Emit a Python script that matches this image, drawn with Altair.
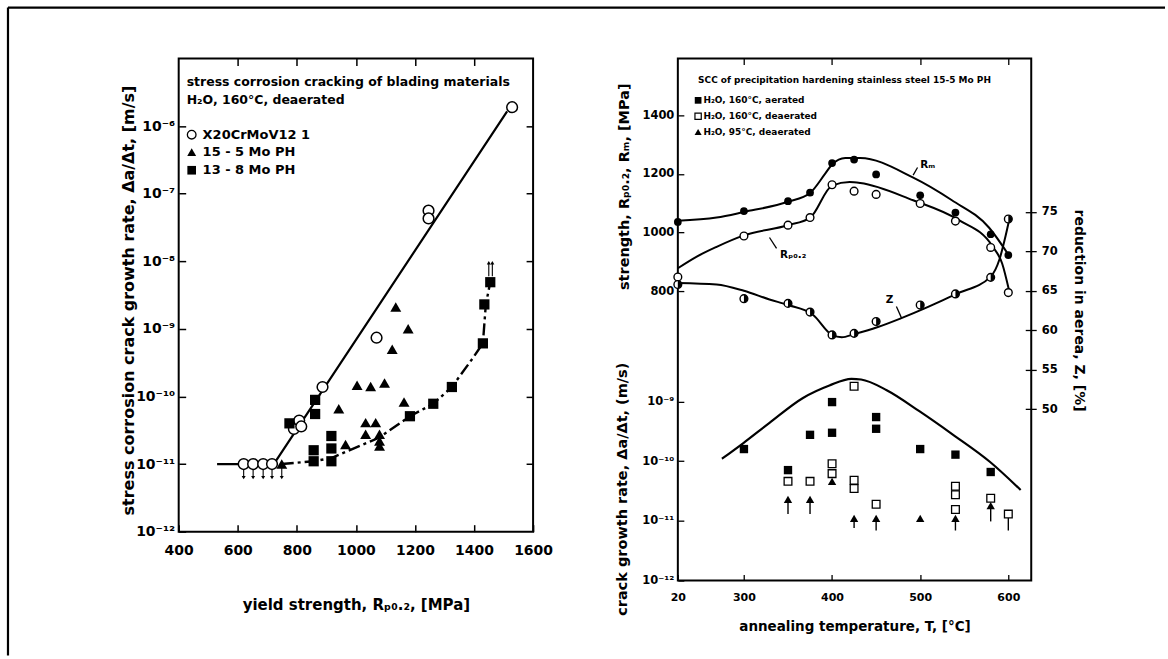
import altair as alt
import pandas as pd

FONT = "DejaVu Sans"

# ================= LEFT PANEL : crack growth rate vs yield strength =================
x20_strength = [620, 652, 686, 716, 790, 808, 815, 887, 1070, 1246, 1246, 1529]
x20_rate = [1e-11, 1e-11, 1e-11, 1e-11, 3.3e-11, 4.4e-11, 3.6e-11, 1.38e-10, 7.4e-10, 5.6e-8, 4.3e-8, 1.9e-6]

ph155_strength = [749, 942, 965, 1004, 1033, 1033, 1050, 1067, 1080, 1080, 1080, 1097, 1123, 1135, 1163, 1177]
ph155_rate = [1.0e-11, 6.6e-11, 1.95e-11, 1.46e-10, 4.1e-11, 2.75e-11, 1.4e-10, 4.1e-11,
              2.75e-11, 2.2e-11, 1.85e-11, 1.58e-10, 5.0e-10, 2.1e-9, 8.3e-11, 1.0e-9]

ph138_strength = [775, 857, 857, 862, 862, 917, 917, 917, 1183, 1262, 1325, 1430, 1435, 1455]
ph138_rate = [4.0e-11, 1.1e-11, 1.6e-11, 5.5e-11, 8.9e-11, 1.1e-11, 1.7e-11, 2.6e-11,
              5.1e-11, 7.8e-11, 1.38e-10, 6.1e-10, 2.3e-9, 4.9e-9]

x20_line_strength = [530, 722, 1512]
x20_line_rate = [1e-11, 1e-11, 1.65e-6]

ph138_line_strength = [749, 857, 917, 1078, 1183, 1262, 1325, 1396, 1430, 1440, 1455]
ph138_line_rate = [1e-11, 1.1e-11, 1.23e-11, 2.45e-11, 5.1e-11, 7.8e-11, 1.38e-10, 3.7e-10, 6.1e-10, 2.3e-9, 4.9e-9]

down_arrow_strength = [620, 652, 686, 716, 749]
down_arrow_from = [1e-11, 1e-11, 1e-11, 1e-11, 1e-11]
down_arrow_to = [6.3e-12, 6.3e-12, 6.3e-12, 6.3e-12, 6.3e-12]

up_arrow_strength = [1450, 1462]
up_arrow_from = [6.0e-9, 6.0e-9]
up_arrow_to = [9.5e-9, 9.5e-9]

left_x_labels = [400, 600, 800, 1000, 1200, 1400, 1600]
left_x_inner = [600, 800, 1000, 1200, 1400]
left_y_values = [1e-12, 1e-11, 1e-10, 1e-9, 1e-8, 1e-7, 1e-6]
left_y_labels = ["10⁻¹²", "10⁻¹¹", "10⁻¹⁰", "10⁻⁹", "10⁻⁸", "10⁻⁷", "10⁻⁶"]
left_y_inner = [1e-11, 1e-10, 1e-9, 1e-8, 1e-7, 1e-6]

left_head_text = ["stress corrosion cracking of blading materials", "H₂O, 160°C, deaerated"]
left_head_x = [427, 427]
left_head_y = [4.47e-6, 2.45e-6]
left_legend_text = ["X20CrMoV12 1", "15 - 5 Mo PH", "13 - 8 Mo PH"]
left_legend_sym_x = 444
left_legend_txt_x = 481
left_legend_y = [7.46e-7, 4.13e-7, 2.22e-7]

# ================= RIGHT PANEL : 15-5 Mo PH vs annealing temperature =================
BREAK_T = 225  # position on the broken axis where the 20 °C state is drawn

T_pts = [20, 300, 350, 375, 400, 425, 450, 500, 540, 580, 600]
rm_pts = [1036, 1073, 1107, 1136, 1237, 1249, 1198, 1127, 1068, 994, 923]
rp_pts = [848, 988, 1025, 1051, 1163, 1141, 1130, 1099, 1039, 949, 795]
z_pts = [65.8, 64.0, 63.4, 62.3, 59.4, 59.6, 61.1, 63.2, 64.6, 66.7, 74.1]

rm_curve_T = [20, 269, 300, 350, 375, 392, 400, 415, 432, 491, 536, 578, 600]
rm_curve = [1040, 1051, 1070, 1105, 1135, 1200, 1232, 1254, 1254, 1189, 1110, 1017, 925]
rp_curve_T = [20, 246, 269, 300, 350, 375, 400, 420, 432, 492, 544, 582, 593, 601]
rp_curve = [878, 917, 951, 990, 1025, 1050, 1160, 1172, 1169, 1110, 1042, 953, 894, 800]
z_curve_T = [20, 269, 300, 329, 350, 378, 400, 411, 425, 452, 478, 541, 580, 590, 597, 601]
z_curve = [66.0, 65.8, 65.0, 63.9, 63.2, 62.0, 59.4, 59.1, 59.5, 60.4, 61.5, 64.6, 66.8, 69.0, 72.0, 74.0]

aer_T = [300, 350, 375, 400, 400, 450, 450, 500, 540, 580]
aer_rate = [1.6e-10, 7.1e-11, 2.77e-10, 9.8e-10, 3.0e-10, 5.5e-10, 3.5e-10, 1.6e-10, 1.29e-10, 6.6e-11]
dea_T = [350, 375, 400, 400, 425, 425, 425, 450, 540, 540, 540, 580, 600]
dea_rate = [4.6e-11, 4.6e-11, 9.1e-11, 6.2e-11, 1.8e-9, 4.8e-11, 3.5e-11, 1.9e-11,
            3.8e-11, 2.75e-11, 1.55e-11, 2.4e-11, 1.3e-11]
c95_T = [350, 375, 400, 425, 450, 500, 540, 580]
c95_rate = [2.3e-11, 2.3e-11, 4.6e-11, 1.1e-11, 1.1e-11, 1.1e-11, 1.1e-11, 1.8e-11]
stem_T = [350, 375, 425, 450, 540, 580, 600]
stem_top = [2.3e-11, 2.3e-11, 1.1e-11, 1.1e-11, 1.1e-11, 1.8e-11, 1.3e-11]
stem_bottom = [1.3e-11, 1.3e-11, 7.6e-12, 6.9e-12, 6.9e-12, 9.8e-12, 6.9e-12]

cgr_curve_T = [275, 299, 329, 367, 397, 422, 433, 462, 499, 537, 579, 614]
cgr_curve = [1.1e-10, 2.0e-10, 4.4e-10, 1.15e-9, 1.86e-9, 2.4e-9, 2.34e-9, 1.55e-9, 6.9e-10, 2.8e-10, 9.8e-11, 3.3e-11]

right_x_labels = [BREAK_T, 300, 400, 500, 600]
right_x_inner = [300, 400, 500, 600]
strength_ticks = [800, 1000, 1200, 1400]
cgr_ticks = [1e-12, 1e-11, 1e-10, 1e-9]
cgr_labels = ["10⁻¹²", "10⁻¹¹", "10⁻¹⁰", "10⁻⁹"]
z_ticks = [50, 55, 60, 65, 70, 75]

right_head_text = "SCC of precipitation hardening stainless steel 15-5 Mo PH"
right_head_T, right_head_y = 248, 1519
right_legend_text = ["H₂O, 160°C, aerated", "H₂O, 160°C, deaerated", "H₂O,  95°C, deaerated"]
right_legend_sym_T = 248
right_legend_txt_T = 254
right_legend_y = [1451, 1397, 1343]

curve_label_text = ["Rₘ", "Rₚ₀.₂"]
curve_label_T = [500, 341]
curve_label_y = [1232, 923]
leader_T1 = [492, 329]
leader_y1 = [1196, 983]
leader_T2 = [497, 337]
leader_y2 = [1222, 946]
z_label_T, z_label_y = 461, 63.8
z_leader_T1, z_leader_y1, z_leader_T2, z_leader_y2 = 473, 63.0, 479, 61.5

# ---------------- helpers ----------------
W_L, H_L = 355, 474
W_R, H_R = 354, 523
BLACK = "black"
LBL = dict(labelFont=FONT, labelFontWeight="bold", labelColor=BLACK,
           titleFont=FONT, titleFontWeight="bold", titleColor=BLACK,
           tickColor=BLACK, grid=False, domain=False, labelFlush=False)


def label_expr(vals, labels):
    parts = [f"datum.value < {v * 3:.3g} ? '{l}'" for v, l in zip(vals[:-1], labels[:-1])]
    return " : ".join(parts) + f" : '{labels[-1]}'"


def xl(field, axis=None):
    return alt.X(f"{field}:Q", scale=alt.Scale(domain=[400, 1600], nice=False, zero=False), axis=axis)


def yl(field, axis=None):
    return alt.Y(f"{field}:Q", scale=alt.Scale(type="log", domain=[1e-12, 1e-5], nice=False), axis=axis)


def xr(field, axis=None):
    return alt.X(f"{field}:Q", scale=alt.Scale(domain=[BREAK_T, 626], nice=False, zero=False), axis=axis)


def ys(field, axis=None):
    return alt.Y(f"{field}:Q", scale=alt.Scale(domain=[-188, 1594], nice=False, zero=False), axis=axis)


def yc(field, axis=None):
    return alt.Y(f"{field}:Q", scale=alt.Scale(type="log", domain=[1e-12, 10 ** -3.25], nice=False), axis=axis)


def yz(field, axis=None):
    return alt.Y(f"{field}:Q", scale=alt.Scale(domain=[28.25, 94.46], nice=False, zero=False), axis=axis)


def tdisp(ts):
    return [BREAK_T if t < 100 else t for t in ts]


def txt(size):
    return dict(font=FONT, fontWeight="bold", fontSize=size, align="left", baseline="middle", color=BLACK)


# ---------------- left panel ----------------
ax_l_bottom = alt.Axis(orient="bottom", values=left_x_labels, format="d", offset=-7, tickSize=7, tickWidth=1.5,
                       labelPadding=12, labelFontSize=14, title="yield strength, Rₚ₀.₂, [MPa]",
                       titleFontSize=15, titleY=80, titleBaseline="middle", **LBL)
ax_l_left = alt.Axis(orient="left", values=left_y_values, offset=-7, tickSize=7, tickWidth=1.5,
                     labelPadding=4, labelFontSize=14,
                     labelExpr=label_expr(left_y_values, left_y_labels),
                     title="stress corrosion crack growth rate, Δa/Δt, [m/s]",
                     titleFontSize=16, titleX=-57, titleY=242, titleBaseline="middle", **LBL)
ax_l_top = alt.Axis(orient="top", values=left_x_inner, offset=-7, tickSize=7, tickWidth=1.5,
                    labels=False, title=None, **LBL)
ax_l_right = alt.Axis(orient="right", values=left_y_inner, offset=-7, tickSize=7, tickWidth=1.5,
                      labels=False, title=None, **LBL)

df_x20_line = pd.DataFrame({"s": x20_line_strength, "r": x20_line_rate})
df_138_line = pd.DataFrame({"s": ph138_line_strength, "r": ph138_line_rate})
df_x20 = pd.DataFrame({"s": x20_strength, "r": x20_rate})
df_155 = pd.DataFrame({"s": ph155_strength, "r": ph155_rate})
df_138 = pd.DataFrame({"s": ph138_strength, "r": ph138_rate})
df_down = pd.DataFrame({"s": down_arrow_strength, "a": down_arrow_from, "b": down_arrow_to})
df_up = pd.DataFrame({"s": up_arrow_strength, "a": up_arrow_from, "b": up_arrow_to})
df_lhead = pd.DataFrame({"s": left_head_x, "r": left_head_y, "t": left_head_text})
df_lleg = pd.DataFrame({"s": [left_legend_sym_x] * 3, "s2": [left_legend_txt_x] * 3,
                        "r": left_legend_y, "t": left_legend_text})

l_line1 = alt.Chart(df_x20_line).mark_line(color=BLACK, strokeWidth=2.2).encode(
    x=xl("s", ax_l_bottom), y=yl("r", ax_l_left))
l_line2 = alt.Chart(df_138_line).mark_line(color=BLACK, strokeWidth=2.4, strokeDash=[12, 4, 3, 4]).encode(
    x=xl("s", ax_l_top), y=yl("r", ax_l_right))
l_down_rule = alt.Chart(df_down).mark_rule(color=BLACK, strokeWidth=1.1).encode(x=xl("s"), y=yl("a"), y2="b")
l_down_head = alt.Chart(df_down).mark_point(shape="triangle-down", filled=True, color=BLACK, size=16,
                                            opacity=1).encode(x=xl("s"), y=yl("b"))
l_up_rule = alt.Chart(df_up).mark_rule(color=BLACK, strokeWidth=1.1).encode(x=xl("s"), y=yl("a"), y2="b")
l_up_head = alt.Chart(df_up).mark_point(shape="triangle-up", filled=True, color=BLACK, size=16,
                                        opacity=1).encode(x=xl("s"), y=yl("b"))
l_circ = alt.Chart(df_x20).mark_point(shape="circle", filled=True, fill="white", stroke=BLACK,
                                      strokeWidth=1.5, size=115, opacity=1).encode(x=xl("s"), y=yl("r"))
l_tri = alt.Chart(df_155).mark_point(shape="triangle-up", filled=True, color=BLACK, size=120,
                                     opacity=1).encode(x=xl("s"), y=yl("r"))
l_sq = alt.Chart(df_138).mark_point(shape="square", filled=True, color=BLACK, size=105,
                                    opacity=1).encode(x=xl("s"), y=yl("r"))
l_head = alt.Chart(df_lhead).mark_text(**txt(12.5)).encode(x=xl("s"), y=yl("r"), text="t:N")
lg = alt.Chart(df_lleg)
l_leg_c = lg.transform_filter(alt.datum.t == left_legend_text[0]).mark_point(
    shape="circle", filled=True, fill="white", stroke=BLACK, strokeWidth=1.3, size=75, opacity=1).encode(
    x=xl("s"), y=yl("r"))
l_leg_t = lg.transform_filter(alt.datum.t == left_legend_text[1]).mark_point(
    shape="triangle-up", filled=True, color=BLACK, size=80, opacity=1).encode(x=xl("s"), y=yl("r"))
l_leg_s = lg.transform_filter(alt.datum.t == left_legend_text[2]).mark_point(
    shape="square", filled=True, color=BLACK, size=75, opacity=1).encode(x=xl("s"), y=yl("r"))
l_leg_txt = lg.mark_text(**txt(13)).encode(x=xl("s2"), y=yl("r"), text="t:N")
df_one = pd.DataFrame({"k": [0]})
border_top = alt.Chart(df_one).mark_rule(color=BLACK, strokeWidth=2.2).encode(
    x=alt.value(-171), x2=alt.value(988), y=alt.value(-51))
border_left = alt.Chart(df_one).mark_rule(color=BLACK, strokeWidth=2.2).encode(
    x=alt.value(-171), y=alt.value(-51), y2=alt.value(598))

left = alt.layer(l_line1, l_line2, l_down_rule, l_down_head, l_up_rule, l_up_head, l_circ, l_tri, l_sq,
                 l_head, l_leg_c, l_leg_t, l_leg_s, l_leg_txt, border_top, border_left).resolve_axis(
    x="independent", y="independent").properties(width=W_L, height=H_L)

# ---------------- right panel ----------------
ax_r_bottom = alt.Axis(orient="bottom", values=right_x_labels, format="d", offset=-6, tickSize=6, tickWidth=1.3,
                       labelPadding=11, labelFontSize=11,
                       labelExpr=f"datum.value == {BREAK_T} ? '20' : datum.label",
                       title="annealing temperature, T,  [°C]", titleFontSize=13.5, titleY=52,
                       titleBaseline="middle", **LBL)
ax_r_top = alt.Axis(orient="top", values=right_x_inner, offset=-6, tickSize=6, tickWidth=1.3,
                    labels=False, title=None, **LBL)
ax_str = alt.Axis(orient="left", values=strength_ticks, format="d", offset=-6, tickSize=6, tickWidth=1.3,
                  labelPadding=4, labelFontSize=11.5, title="strength, Rₚ₀.₂, Rₘ, [MPa]",
                  titleFontSize=14.5, titleX=-59, titleY=128, titleBaseline="middle", **LBL)
ax_cgr = alt.Axis(orient="left", values=cgr_ticks, offset=-6, tickSize=6, tickWidth=1.3,
                  labelPadding=4, labelFontSize=11.5, labelExpr=label_expr(cgr_ticks, cgr_labels),
                  title="crack growth rate, Δa/Δt, (m/s)", titleFontSize=14.5, titleX=-61, titleY=431,
                  titleBaseline="middle", **LBL)
ax_z = alt.Axis(orient="right", values=z_ticks, format="d", offset=-6, tickSize=11, tickWidth=1.3,
                labelPadding=5, labelFontSize=11.5, title="reduction in aerea, Z, [%]",
                titleFontSize=14, titleX=53, titleY=252, titleBaseline="middle", **LBL)

df_rm_curve = pd.DataFrame({"T": tdisp(rm_curve_T), "v": rm_curve})
df_rp_curve = pd.DataFrame({"T": tdisp(rp_curve_T), "v": rp_curve})
df_z_curve = pd.DataFrame({"T": tdisp(z_curve_T), "v": z_curve})
df_cgr_curve = pd.DataFrame({"T": cgr_curve_T, "v": cgr_curve})
df_pts = pd.DataFrame({"T": tdisp(T_pts), "rm": rm_pts, "rp": rp_pts, "z": z_pts})
df_aer = pd.DataFrame({"T": aer_T, "v": aer_rate})
df_dea = pd.DataFrame({"T": dea_T, "v": dea_rate})
df_95 = pd.DataFrame({"T": c95_T, "v": c95_rate})
df_stem = pd.DataFrame({"T": stem_T, "a": stem_top, "b": stem_bottom})
df_rhead = pd.DataFrame({"T": [right_head_T], "v": [right_head_y], "t": [right_head_text]})
df_rleg = pd.DataFrame({"T": [right_legend_sym_T] * 3, "T2": [right_legend_txt_T] * 3, "v": right_legend_y,
                        "t": right_legend_text})
df_clab = pd.DataFrame({"T": curve_label_T, "v": curve_label_y, "t": curve_label_text})
df_lead = pd.DataFrame({"T": leader_T1, "v": leader_y1, "T2": leader_T2, "v2": leader_y2})
df_zlab = pd.DataFrame({"T": [z_label_T], "v": [z_label_y], "t": ["Z"]})
df_zlead = pd.DataFrame({"T": [z_leader_T1], "v": [z_leader_y1], "T2": [z_leader_T2], "v2": [z_leader_y2]})

HALF_DISC = "M 0 -1 A 1 1 0 0 1 0 1 Z"

r_rm = alt.Chart(df_rm_curve).mark_line(color=BLACK, strokeWidth=2, interpolate="monotone").encode(
    x=xr("T", ax_r_bottom), y=ys("v", ax_str))
r_rp = alt.Chart(df_rp_curve).mark_line(color=BLACK, strokeWidth=2, interpolate="monotone").encode(
    x=xr("T", ax_r_top), y=ys("v"))
r_z = alt.Chart(df_z_curve).mark_line(color=BLACK, strokeWidth=2, interpolate="monotone").encode(
    x=xr("T"), y=yz("v", ax_z))
r_cgr = alt.Chart(df_cgr_curve).mark_line(color=BLACK, strokeWidth=2.2, interpolate="monotone").encode(
    x=xr("T"), y=yc("v", ax_cgr))
r_rm_pts = alt.Chart(df_pts).mark_point(shape="circle", filled=True, color=BLACK, size=60, opacity=1).encode(
    x=xr("T"), y=ys("rm"))
r_rp_pts = alt.Chart(df_pts).mark_point(shape="circle", filled=True, fill="white", stroke=BLACK,
                                        strokeWidth=1.4, size=60, opacity=1).encode(x=xr("T"), y=ys("rp"))
r_z_pts = alt.Chart(df_pts).mark_point(shape="circle", filled=True, fill="white", stroke=BLACK,
                                       strokeWidth=1.4, size=60, opacity=1).encode(x=xr("T"), y=yz("z"))
r_z_half = alt.Chart(df_pts).mark_point(shape=HALF_DISC, filled=True, color=BLACK, size=60, opacity=1).encode(
    x=xr("T"), y=yz("z"))
r_stem = alt.Chart(df_stem).mark_rule(color=BLACK, strokeWidth=1.4).encode(x=xr("T"), y=yc("a"), y2="b")
r_aer = alt.Chart(df_aer).mark_point(shape="square", filled=True, color=BLACK, size=70, opacity=1).encode(
    x=xr("T"), y=yc("v"))
r_dea = alt.Chart(df_dea).mark_point(shape="square", filled=True, fill="white", stroke=BLACK,
                                     strokeWidth=1.3, size=60, opacity=1).encode(x=xr("T"), y=yc("v"))
r_95 = alt.Chart(df_95).mark_point(shape="triangle-up", filled=True, color=BLACK, size=70, opacity=1).encode(
    x=xr("T"), y=yc("v"))
r_head = alt.Chart(df_rhead).mark_text(**txt(9)).encode(x=xr("T"), y=ys("v"), text="t:N")
rg = alt.Chart(df_rleg)
r_leg_a = rg.transform_filter(alt.datum.t == right_legend_text[0]).mark_point(
    shape="square", filled=True, color=BLACK, size=45, opacity=1).encode(x=xr("T"), y=ys("v"))
r_leg_b = rg.transform_filter(alt.datum.t == right_legend_text[1]).mark_point(
    shape="square", filled=True, fill="white", stroke=BLACK, strokeWidth=1.2, size=40, opacity=1).encode(
    x=xr("T"), y=ys("v"))
r_leg_c = rg.transform_filter(alt.datum.t == right_legend_text[2]).mark_point(
    shape="triangle-up", filled=True, color=BLACK, size=50, opacity=1).encode(x=xr("T"), y=ys("v"))
r_leg_txt = rg.mark_text(**txt(9)).encode(x=xr("T2"), y=ys("v"), text="t:N")
r_clab = alt.Chart(df_clab).mark_text(**txt(10.5)).encode(x=xr("T"), y=ys("v"), text="t:N")
r_lead = alt.Chart(df_lead).mark_rule(color=BLACK, strokeWidth=1.3).encode(
    x=xr("T"), y=ys("v"), x2="T2", y2="v2")
r_zlab = alt.Chart(df_zlab).mark_text(**txt(10.5)).encode(x=xr("T"), y=yz("v"), text="t:N")
r_zlead = alt.Chart(df_zlead).mark_rule(color=BLACK, strokeWidth=1.3).encode(
    x=xr("T"), y=yz("v"), x2="T2", y2="v2")

right = alt.layer(r_rm, r_rp, r_z, r_cgr, r_stem, r_rm_pts, r_rp_pts, r_z_pts, r_z_half, r_aer, r_dea, r_95,
                  r_head, r_leg_a, r_leg_b, r_leg_c, r_leg_txt, r_clab, r_lead, r_zlab, r_zlead).resolve_scale(
    y="independent").resolve_axis(x="independent", y="independent").properties(width=W_R, height=H_R)

chart = alt.hconcat(left, right, spacing=145, bounds="flush").properties(
    padding={"left": 5, "top": 4, "right": 0, "bottom": 0}
).configure_view(stroke=BLACK, strokeWidth=2)

chart.save("out.html", embed_options={"renderer": "svg", "actions": False})
